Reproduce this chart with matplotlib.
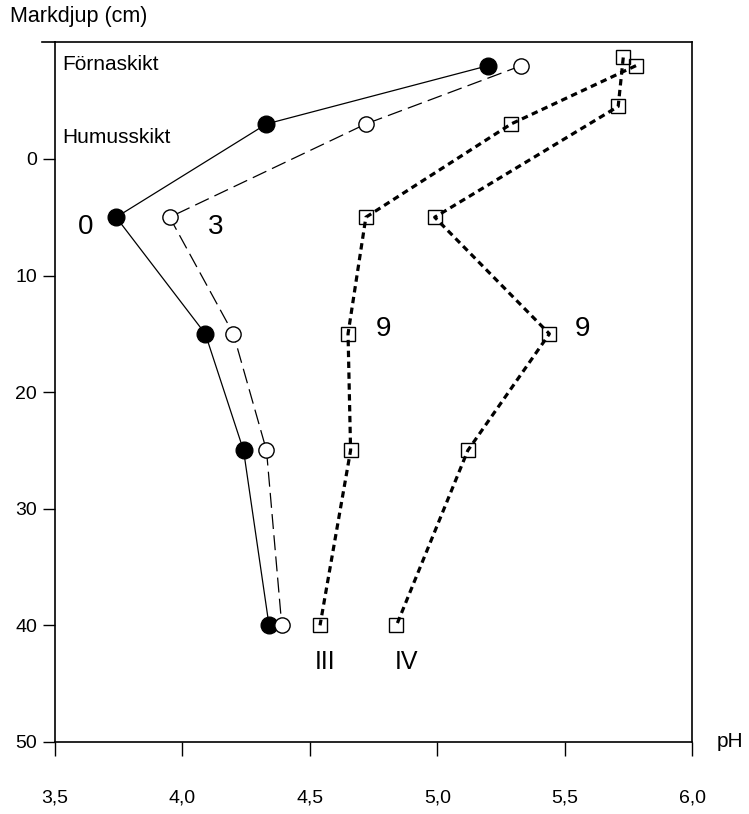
import matplotlib.pyplot as plt

plt.rcParams['font.family'] = ['Liberation Sans', 'DejaVu Sans']

# djup (cm), negativa = förna/humus
depth_0 = [-8, -3, 5, 15, 25, 40]
ph_0 = [5.2, 4.33, 3.74, 4.09, 4.24, 4.34]
depth_3 = [-8, -3, 5, 15, 25, 40]
ph_3 = [5.33, 4.72, 3.95, 4.2, 4.33, 4.39]
depth_III = [-8, -3, 5, 15, 25, 40]
ph_III = [5.78, 5.29, 4.72, 4.65, 4.66, 4.54]
depth_IV = [-8.7, -4.5, 5, 15, 25, 40]
ph_IV = [5.73, 5.71, 4.99, 5.44, 5.12, 4.84]

xticks = [3.5, 4.0, 4.5, 5.0, 5.5, 6.0]
xticklabels = ['3,5', '4,0', '4,5', '5,0', '5,5', '6,0']
yticks = [0, 10, 20, 30, 40, 50]

fig = plt.figure(figsize=(7.49, 8.14), dpi=100)
ax = fig.add_axes([0.0734, 0.0885, 0.8506, 0.8595])

ax.plot(ph_0, depth_0, color='black', lw=0.9, ls='-', marker='o', ms=12,
        mfc='black', mec='black', zorder=3)
ax.plot(ph_3, depth_3, color='black', lw=0.9, ls=(0, (12, 5)), marker='o', ms=11,
        mfc='white', mec='black', mew=1, zorder=3)
ax.plot(ph_III, depth_III, color='black', lw=2.3, ls=(0, (2, 1.4)), marker='s', ms=10,
        mfc='none', mec='black', mew=1, zorder=3)
ax.plot(ph_IV, depth_IV, color='black', lw=2.3, ls=(0, (2, 1.4)), marker='s', ms=10,
        mfc='none', mec='black', mew=1, zorder=3)

ax.set_xlim(3.5, 6.0)
ax.set_ylim(50, -10)
ax.set_xticks(xticks)
ax.set_xticklabels(xticklabels, fontsize=14)
ax.set_yticks(yticks)
ax.tick_params(axis='y', labelsize=14, length=9, width=1, direction='out', pad=4)
ax.tick_params(axis='x', length=10, width=1, direction='out', pad=24)
for s in ax.spines.values():
    s.set_linewidth(1.2)
# topplinjen går lite förbi vänsteraxeln
ax.plot([-0.02, 0], [1, 1], transform=ax.transAxes, color='black', lw=1.2, clip_on=False)

ax.text(-0.071, 1.022, 'Markdjup (cm)', transform=ax.transAxes, fontsize=15.5,
        ha='left', va='bottom')
ax.text(1.038, 0.0, 'pH', transform=ax.transAxes, fontsize=15, ha='left', va='center')

ax.text(3.53, -8.1, 'Förnaskikt', fontsize=15, ha='left', va='center')
ax.text(3.53, -1.8, 'Humusskikt', fontsize=15, ha='left', va='center')

ax.text(3.62, 5.8, '0', fontsize=20, ha='center', va='center')
ax.text(4.13, 5.8, '3', fontsize=20, ha='center', va='center')
ax.text(4.79, 14.6, '9', fontsize=20, ha='center', va='center')
ax.text(5.57, 14.6, '9', fontsize=20, ha='center', va='center')
ax.text(4.56, 43.1, 'III', fontsize=18, ha='center', va='center')
ax.text(4.88, 43.1, 'IV', fontsize=18, ha='center', va='center')

plt.savefig('out.png', dpi=100)
